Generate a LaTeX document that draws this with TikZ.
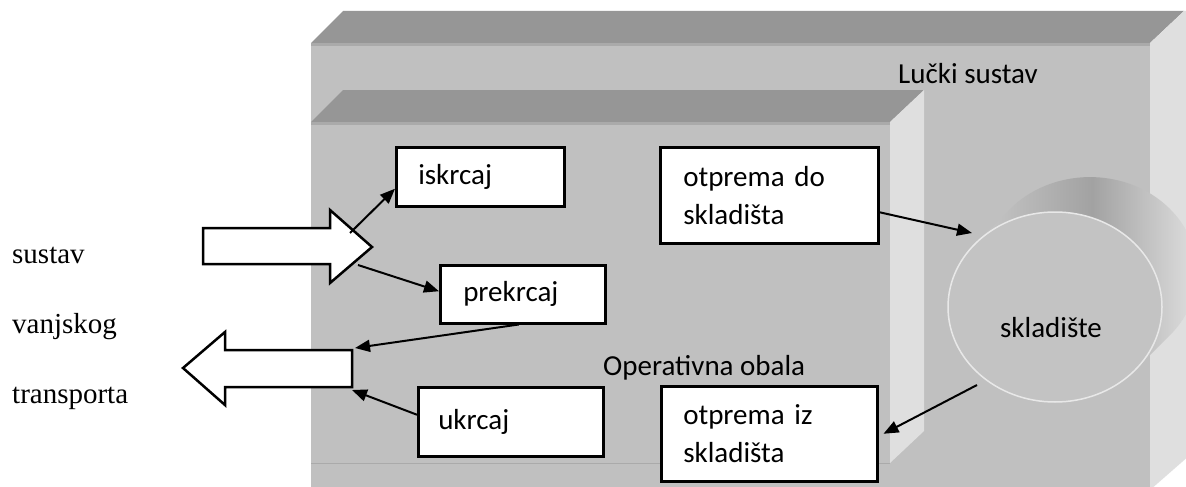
\documentclass[tikz,border=0pt]{standalone}
\usepackage{fontspec}
\setmainfont{Liberation Serif}
\newfontfamily\carl{Carlito}
\usetikzlibrary{arrows.meta,calc,shapes.geometric}
\definecolor{frontg}{HTML}{C0C0C0}
\definecolor{topg}{HTML}{969696}
\definecolor{sideg}{HTML}{DFDFDF}
\definecolor{edgeg}{HTML}{AAAAAA}
\definecolor{cyldark}{HTML}{A2A2A2}
\definecolor{cyllight}{HTML}{E6E6E6}
\definecolor{cylmid}{HTML}{C8C8C8}
\definecolor{cylface}{HTML}{C3C3C3}
\definecolor{cylrim}{HTML}{E8E8E8}
\tikzset{
  lbl/.style={font=\carl\fontsize{29}{38}\selectfont, inner sep=0pt},
  procbox/.style={draw=black, line width=2.5pt, fill=white,
    font=\carl\fontsize{29}{38}\selectfont, align=left, anchor=north west, inner ysep=0pt},
  conn/.style={line width=2pt, -{Triangle[length=15pt,width=12pt]}},
  blockarrow/.style={draw=black, line width=2.5pt, fill=white, line join=miter},
  serif/.style={font=\fontsize{29}{35}\selectfont, anchor=base west, inner sep=0pt}
}
\begin{document}
\begin{tikzpicture}[x=1pt,y=-1pt]
\useasboundingbox (0,0) rectangle (1186,487);
\fill[white] (0,0) rectangle (1186,487);
\begin{scope}
\clip (0,0) rectangle (1186,487);
% outer box (Lucki sustav)
\fill[topg] (311,43) -- (343,11) -- (1184,11) -- (1150,43) -- cycle;
\fill[sideg] (1150,43) -- (1184,11) -- (1190,11) -- (1190,455) -- (1150,490) -- cycle;
\fill[frontg] (311,43) rectangle (1150,490);
\fill[edgeg] (311,43) rectangle (1150,46);
% inner box (Operativna obala)
\fill[topg] (311,122) -- (343,90) -- (924,90) -- (890,122) -- cycle;
\fill[sideg] (890,122) -- (924,90) -- (924,431) -- (890,463) -- cycle;
\fill[frontg] (311,122) rectangle (890,463);
\fill[edgeg] (311,122) rectangle (890,125);
\draw[edgeg, line width=1pt] (311,463.5) -- (890,463.5);
% cylinder (skladiste)
\shade[left color=cylmid, right color=cyllight, middle color=cyldark]
  (975,244) -- (1010,209) arc[start angle=221.6, end angle=401.6, x radius=107, y radius=95]
  -- (1135,370) -- cycle;
\node[ellipse, draw=cylrim, line width=1.5pt, fill=cylface, minimum width=214pt,
      minimum height=190pt, inner sep=0pt] (cyl) at (1055,307) {};
\end{scope}
% labels
\node[lbl, anchor=base west] (lucki) at (898,84) {Lučki sustav};
\node[lbl, anchor=base west] (obala) at (603,375) {Operativna obala};
\node[lbl, anchor=base] (skl) at (1051,337) {skladište};
\node[serif] (t1) at (12,263) {sustav};
\node[serif] (t2) at (12,333) {vanjskog};
\node[serif] (t3) at (12,403) {transporta};
% process boxes
\node[procbox, inner xsep=22pt, text width=124pt, minimum height=59pt] (isk) at (395,146) {iskrcaj};
\node[procbox, inner xsep=23pt, text width=119pt, minimum height=58pt] (prek) at (439,264) {prekrcaj};
\node[procbox, inner xsep=20pt, text width=145pt, minimum height=69pt] (ukr) at (417,386) {ukrcaj};
\node[procbox, inner xsep=23pt, text width=172pt, minimum height=96pt] (otd) at (659,146) {otprema do\\skladišta};
\node[procbox, inner xsep=22pt, text width=172pt, minimum height=95pt] (otiz) at (660,385) {otprema iz\\skladišta};
% block arrows
\draw[blockarrow] (203,228) -- (330,228) -- (330,210) -- (372,247) -- (330,283) -- (330,264) -- (203,264) -- cycle;
\draw[blockarrow] (352,350) -- (225,350) -- (225,332) -- (183,368) -- (225,405) -- (225,387) -- (352,387) -- cycle;
% connector end points
\coordinate (inA) at (350,233);
\coordinate (inB) at (358,265);
\coordinate (outA) at (355,348);
\coordinate (outB) at (352,390);
\coordinate (cylin) at (972,233);
\coordinate (cylout) at (977,385);
% connectors
\draw[conn] (inA) -- ($(isk.west)+(0,12)$);
\draw[conn] (inB) -- ($(prek.west)+(0,-3)$);
\draw[conn] ($(prek.south)+(-4,0)$) -- (outA);
\draw[conn] ($(ukr.west)+(0,-7)$) -- (outB);
\draw[conn] ($(otd.east)+(0,17)$) -- (cylin);
\draw[conn] (cylout) -- ($(otiz.east)+(5,0)$);
\end{tikzpicture}
\end{document}
